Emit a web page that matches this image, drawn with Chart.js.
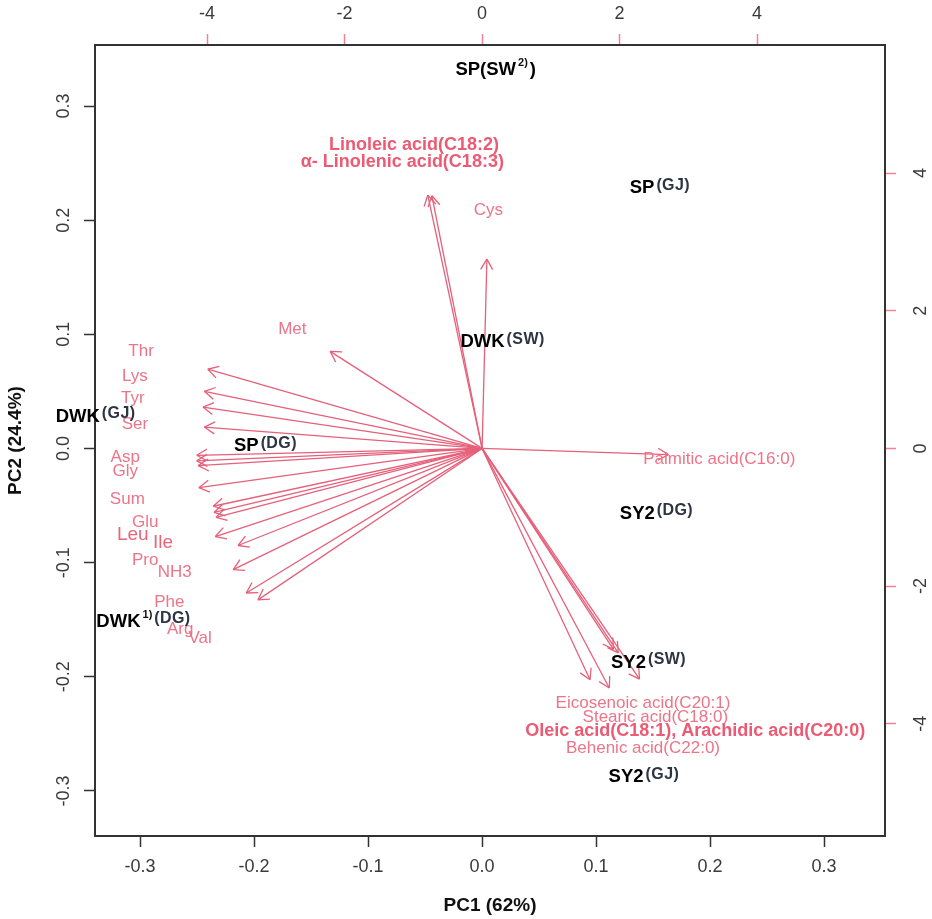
<!DOCTYPE html>
<html>
<head>
<meta charset="utf-8">
<title>PCA biplot</title>
<script src="https://cdn.jsdelivr.net/npm/chart.js@4.4.1/dist/chart.umd.min.js"></script>
<style>
  html, body { margin: 0; padding: 0; background: #fff; }
  #wrap { width: 932px; height: 919px; position: relative; }
</style>
</head>
<body>
<div id="wrap"><canvas id="biplot"></canvas></div>
<script>
// sample scores, bottom/left axes. {..} = footnote mark, [..] = site
const obsLabels = ['SP(SW{2)})', 'SP[(GJ)]', 'DWK[(SW)]', 'DWK[(GJ)]', 'SP[(DG)]', 'SY2[(DG)]', 'SY2[(SW)]', 'SY2[(GJ)]', 'DWK{1)}[(DG)]'];
const obsPC1 = [0.012, 0.156, 0.018, -0.339, -0.190, 0.153, 0.146, 0.142, -0.297];
const obsPC2 = [0.332, 0.228, 0.093, 0.028, 0.002, -0.057, -0.188, -0.288, -0.152];

// variable loadings (arrow tips), top/right axes
const varNames = ['Thr', 'Lys', 'Tyr', 'Ser', 'Asp', 'Ala', 'Gly', 'Sum', 'Glu', 'Leu', 'Ile', 'Pro', 'NH3', 'Phe', 'Arg', 'Val',
  'Met', 'Cys', 'C18:2', 'C18:3', 'C16:0', 'C20:1', 'C18:0', 'C18:1', 'C20:0', 'C22:0'];
const loadPC1 = [-3.99, -4.04, -4.06, -4.04, -4.15, -4.15, -4.13, -4.12, -3.91, -3.90, -3.87, -3.88, -3.55, -3.62, -3.43, -3.26,
  -2.21, 0.07, -0.79, -0.73, 2.71, 1.57, 1.85, 1.91, 1.98, 2.29];
const loadPC2 = [1.15, 0.83, 0.60, 0.31, -0.10, -0.18, -0.25, -0.57, -0.84, -0.93, -1.00, -1.28, -1.41, -1.76, -2.10, -2.20,
  1.41, 2.75, 3.68, 3.67, -0.09, -3.36, -3.48, -2.92, -2.97, -3.35];

// variable text labels, top/right axes
const varLabels = ['Thr', 'Lys', 'Tyr', 'Ser', 'Asp', 'Gly', 'Sum', 'Glu', 'Leu', 'Ile', 'Pro', 'NH3', 'Phe', 'Arg', 'Val', 'Met', 'Cys',
  'Linoleic acid(C18:2)', 'α- Linolenic acid(C18:3)', 'Palmitic acid(C16:0)', 'Eicosenoic acid(C20:1)',
  'Stearic acid(C18:0)', 'Oleic acid(C18:1), Arachidic acid(C20:0)', 'Behenic acid(C22:0)'];
const varLabelX = [-4.96, -5.05, -5.08, -5.05, -5.19, -5.19, -5.16, -4.90, -5.08, -4.64, -4.90, -4.47, -4.55, -4.39, -4.10, -2.76, 0.09,
  -0.99, -1.16, 3.45, 2.34, 2.52, 3.10, 2.34];
const varLabelY = [1.41, 1.05, 0.73, 0.35, -0.13, -0.33, -0.74, -1.08, -1.26, -1.37, -1.62, -1.80, -2.24, -2.63, -2.76, 1.73, 3.46,
  4.41, 4.16, -0.16, -3.70, -3.90, -4.10, -4.36];

// tick labels and axis ranges (same limits on both primary axes, as R biplot does)
const pcTicks = [-0.3, -0.2, -0.1, 0, 0.1, 0.2, 0.3];
const loadTicks = [-4, -2, 0, 2, 4];
const pcLim = [-0.3395, 0.3535];
const loadLim = [-5.63, 5.86];

const RED = '#e5607a';
const FONT = "'Liberation Sans', Arial, sans-serif";
Chart.defaults.font.family = FONT;

const boldVars = ['Linoleic acid(C18:2)', 'α- Linolenic acid(C18:3)', 'Oleic acid(C18:1), Arachidic acid(C20:0)'];
const bigVars = ['Leu', 'Ile'];

function setTicks(values) {
  return function (scale) {
    scale.ticks = values.map(v => ({value: v}));
  };
}

const datasets = [];
varNames.forEach((n, i) => {
  datasets.push({
    role: 'arrow', label: n, xAxisID: 'x2', yAxisID: 'y2',
    data: [{x: 0, y: 0}, {x: loadPC1[i], y: loadPC2[i]}],
    showLine: true, borderColor: RED, borderWidth: 1.3, pointRadius: 0
  });
});
datasets.push({
  role: 'varText', xAxisID: 'x2', yAxisID: 'y2', pointRadius: 0,
  data: varLabels.map((t, i) => ({x: varLabelX[i], y: varLabelY[i]}))
});
datasets.push({
  role: 'obsText', xAxisID: 'x', yAxisID: 'y', pointRadius: 0,
  data: obsLabels.map((t, i) => ({x: obsPC1[i], y: obsPC2[i]}))
});

function drawObsLabel(ctx, text, cx, cy) {
  const parts = text.split(/(\{[^}]*\}|\[[^\]]*\])/).filter(p => p.length);
  const segs = parts.map(p => {
    if (p[0] === '{') return {t: p.slice(1, -1), font: 'bold 11px ' + FONT, dy: -7, color: '#111', ls: '0px'};
    if (p[0] === '[') return {t: p.slice(1, -1), font: 'bold 16px ' + FONT, dy: -3, color: '#2d3442', ls: '0.4px'};
    return {t: p, font: 'bold 18.5px ' + FONT, dy: 0, color: '#000', ls: '0px'};
  });
  const gap = 2;
  let total = 0;
  segs.forEach(s => {
    ctx.font = s.font; ctx.letterSpacing = s.ls;
    s.w = ctx.measureText(s.t).width; total += s.w + gap;
  });
  let x = cx - (total - gap) / 2;
  segs.forEach(s => {
    ctx.font = s.font;
    ctx.letterSpacing = s.ls;
    ctx.fillStyle = s.color;
    ctx.fillText(s.t, x, cy + s.dy);
    x += s.w + gap;
  });
  ctx.letterSpacing = '0px';
}

const biplotText = {
  id: 'biplotText',
  afterDatasetsDraw(chart) {
    const ctx = chart.ctx;
    ctx.save();
    chart.data.datasets.forEach((ds, i) => {
      const pts = chart.getDatasetMeta(i).data;
      if (ds.role === 'arrow') {
        const a = pts[0], b = pts[1];
        const ang = Math.atan2(b.y - a.y, b.x - a.x);
        ctx.strokeStyle = ds.borderColor;
        ctx.lineWidth = ds.borderWidth;
        ctx.beginPath();
        [-1, 1].forEach(s => {
          ctx.moveTo(b.x, b.y);
          ctx.lineTo(b.x - 12 * Math.cos(ang + s * Math.PI / 6), b.y - 12 * Math.sin(ang + s * Math.PI / 6));
        });
        ctx.stroke();
      } else if (ds.role === 'varText') {
        ctx.textAlign = 'center';
        ctx.textBaseline = 'middle';
        pts.forEach((p, j) => {
          const t = varLabels[j];
          if (boldVars.includes(t)) { ctx.font = 'bold 18px ' + FONT; ctx.fillStyle = '#ec5a73'; }
          else if (bigVars.includes(t)) { ctx.font = '19px ' + FONT; ctx.fillStyle = '#e8667c'; }
          else { ctx.font = '17px ' + FONT; ctx.fillStyle = '#ec7589'; }
          ctx.fillText(t, p.x, p.y);
        });
      } else if (ds.role === 'obsText') {
        ctx.textAlign = 'left';
        ctx.textBaseline = 'middle';
        pts.forEach((p, j) => drawObsLabel(ctx, obsLabels[j], p.x, p.y));
      }
    });
    ctx.restore();
  }
};

const tickFont = {size: 18};
const tickColor = '#3a3a3a';

new Chart(document.getElementById('biplot'), {
  type: 'scatter',
  data: {datasets: datasets},
  plugins: [biplotText],
  options: {
    responsive: true,
    maintainAspectRatio: false,
    animation: false,
    events: [],
    layout: {padding: 0},
    plugins: {legend: {display: false}, tooltip: {enabled: false}},
    scales: {
      x: {
        type: 'linear', position: 'bottom', min: pcLim[0], max: pcLim[1],
        ticks: {callback: v => v.toFixed(1), color: tickColor, font: tickFont, padding: 9},
        grid: {drawOnChartArea: false, tickLength: 11, tickColor: '#333', tickWidth: 1.5},
        border: {color: '#333', width: 2},
        title: {display: true, text: 'PC1 (62%)', color: '#111', font: {size: 19, weight: 'bold'}, padding: {top: 4, bottom: 2}},
        afterBuildTicks: setTicks(pcTicks),
        afterFit: s => { s.height = 83; }
      },
      y: {
        type: 'linear', position: 'left', min: pcLim[0], max: pcLim[1],
        ticks: {callback: v => v.toFixed(1), color: tickColor, font: tickFont, padding: 4,
          minRotation: 90, maxRotation: 90, crossAlign: 'center'},
        grid: {drawOnChartArea: false, tickLength: 11, tickColor: '#333', tickWidth: 1.5},
        border: {color: '#333', width: 2},
        title: {display: true, text: 'PC2 (24.4%)', color: '#111', font: {size: 19, weight: 'bold'}, padding: {top: 4, bottom: 4}},
        afterBuildTicks: setTicks(pcTicks),
        afterFit: s => { s.width = 95; }
      },
      x2: {
        type: 'linear', position: 'top', min: loadLim[0], max: loadLim[1],
        ticks: {callback: v => String(v), color: tickColor, font: tickFont, padding: 9},
        grid: {drawOnChartArea: false, tickLength: 11, tickColor: '#ef8295', tickWidth: 1.5},
        border: {color: '#333', width: 2},
        afterBuildTicks: setTicks(loadTicks),
        afterFit: s => { s.height = 45; }
      },
      y2: {
        type: 'linear', position: 'right', min: loadLim[0], max: loadLim[1],
        ticks: {callback: v => String(v), color: tickColor, font: tickFont, padding: 17,
          minRotation: 90, maxRotation: 90, crossAlign: 'center'},
        grid: {drawOnChartArea: false, tickLength: 11, tickColor: '#ef8295', tickWidth: 1.5},
        border: {color: '#333', width: 2},
        afterBuildTicks: setTicks(loadTicks),
        afterFit: s => { s.width = 47; }
      }
    }
  }
});
</script>
</body>
</html>
